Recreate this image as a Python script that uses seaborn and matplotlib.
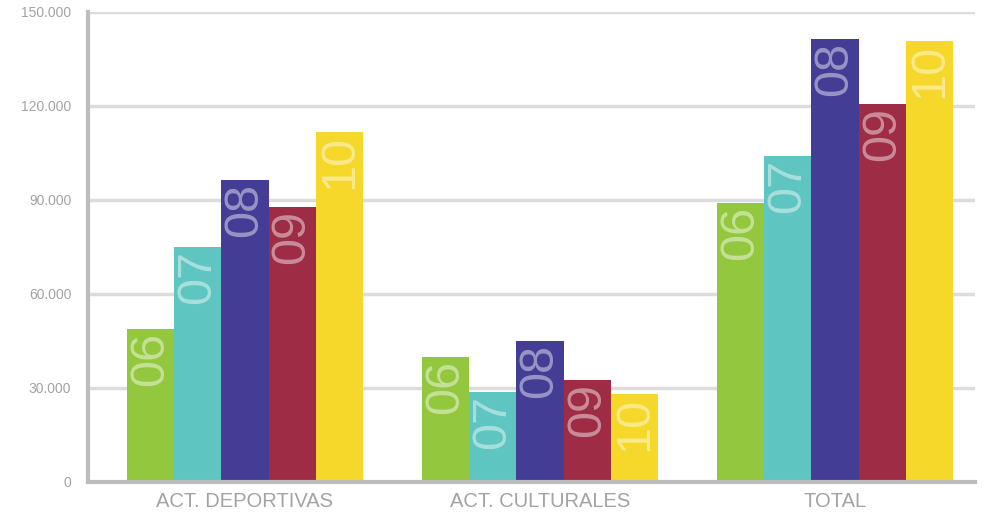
import pandas as pd
import seaborn as sns
from matplotlib import pyplot as plt

# data
categories = ['ACT. DEPORTIVAS', 'ACT. CULTURALES', 'TOTAL']
years = ['06', '07', '08', '09', '10']
v06 = [48800, 39900, 89000]
v07 = [75000, 28700, 104000]
v08 = [96400, 45000, 141400]
v09 = [87800, 32600, 120600]
v10 = [111700, 28100, 140700]
colors = ['#93c83e', '#5fc5c1', '#433d96', '#9e2c45', '#f5d82a']

rows = []
for yr, vals in zip(years, [v06, v07, v08, v09, v10]):
    for cat, v in zip(categories, vals):
        rows.append({'cat': cat, 'year': yr, 'value': v})
df = pd.DataFrame(rows)

sns.set_style('white')
plt.rcParams['font.family'] = ['Liberation Sans', 'DejaVu Sans']

fig = plt.figure(figsize=(9.88, 5.12), dpi=100)
ax = fig.add_axes([0.089, 0.0586, 0.898, 0.918])
sns.barplot(data=df, x='cat', y='value', hue='year', hue_order=years,
            palette=colors, width=0.8, linewidth=0, saturation=1,
            legend=False, ax=ax)

# year labels inside the bars, reading bottom to top, hanging from the bar top
for yr, cont in zip(years, ax.containers):
    for bar in cont:
        ax.annotate(yr, (bar.get_x() + bar.get_width() / 2, bar.get_height()),
                    xytext=(0, -2), textcoords='offset points',
                    rotation=90, ha='center', va='top',
                    fontsize=35, color='white', alpha=0.45)

ax.set_ylim(0, 150000)
ax.set_xlim(-0.532, 2.475)
ax.set_yticks(range(0, 150001, 30000))
ax.set_yticklabels(['0', '30.000', '60.000', '90.000', '120.000', '150.000'])
ax.yaxis.grid(True, color='#dcdcdc', linewidth=2.5)
ax.set_axisbelow(True)
ax.set_xlabel('')
ax.set_ylabel('')
for s in ['top', 'right']:
    ax.spines[s].set_visible(False)
for s in ['left', 'bottom']:
    ax.spines[s].set_color('#bdbdbd')
    ax.spines[s].set_linewidth(3)
ax.tick_params(axis='y', labelsize=10, colors='#a3a3a3', length=0, pad=12)
ax.tick_params(axis='x', labelsize=14.5, colors='#a3a3a3', length=0, pad=7)

plt.savefig('out.png', dpi=100)
